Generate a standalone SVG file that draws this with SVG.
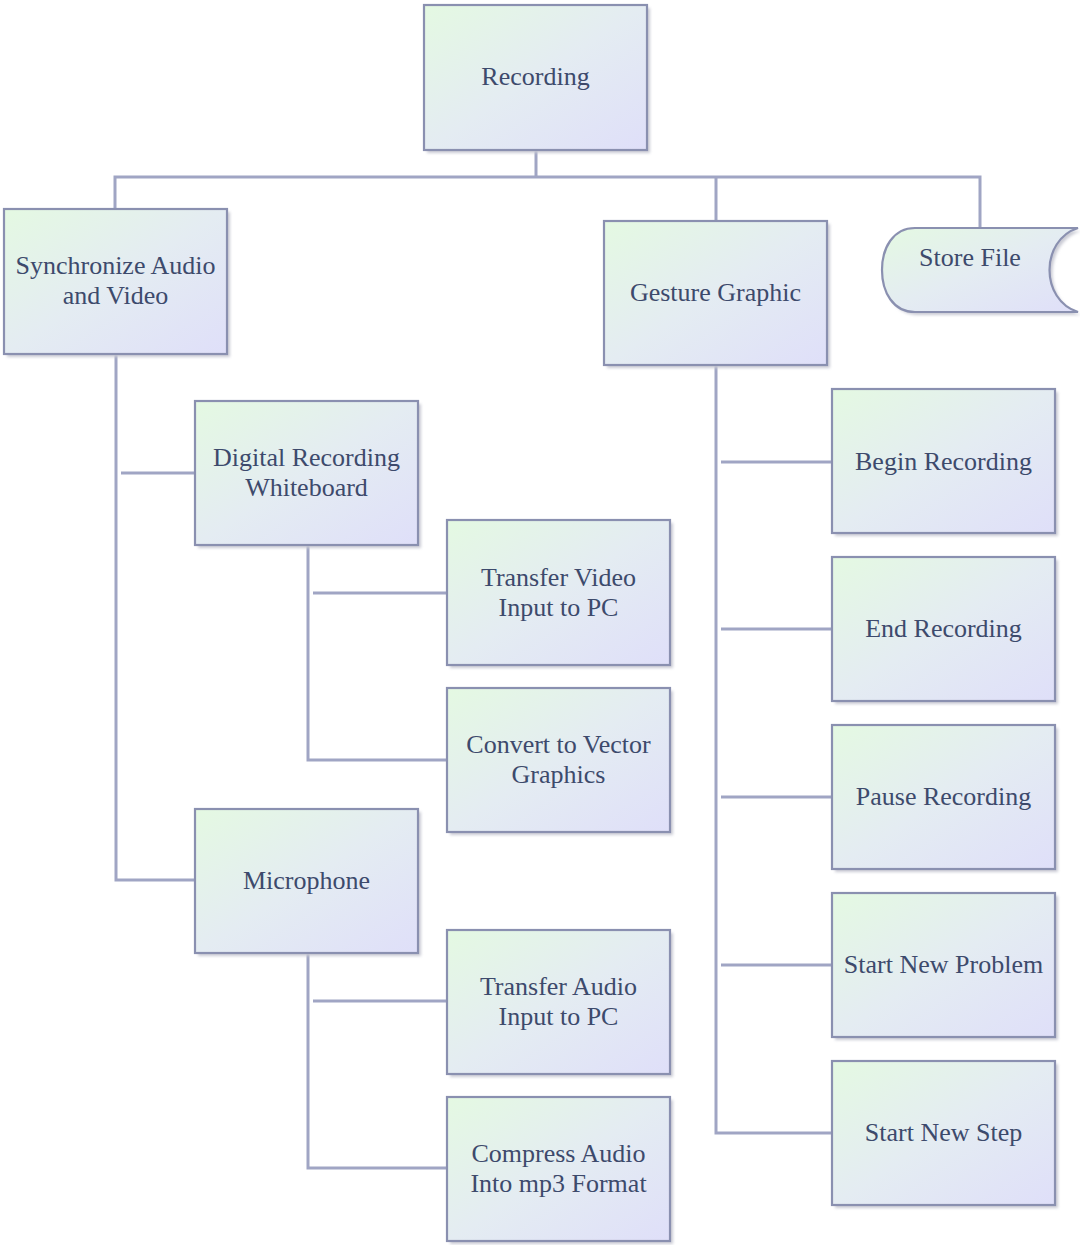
<svg xmlns="http://www.w3.org/2000/svg" width="1080" height="1245" viewBox="0 0 1080 1245">
  <defs>
    <linearGradient id="boxFill" x1="0" y1="0" x2="1" y2="1">
      <stop offset="0" stop-color="#e4f9e2"/>
      <stop offset="0.5" stop-color="#e4ecf2"/>
      <stop offset="1" stop-color="#dfdff9"/>
    </linearGradient>
    <filter id="soft" x="-10%" y="-10%" width="130%" height="130%">
      <feGaussianBlur stdDeviation="1.5"/>
    </filter>
  </defs>
  <style>
    .shadow { fill: #c9cad4; filter: url(#soft); }
    .box { fill: url(#boxFill); stroke: #8a90b0; stroke-width: 2.2; }
    .lbl { font-family: "Liberation Serif", "Times New Roman", serif; font-size: 26px; fill: #3d4a6c; text-anchor: middle; }
    .wire { fill: none; stroke: #a0a5c4; stroke-width: 3; }
  </style>
  <rect width="1080" height="1245" fill="#ffffff"/>

  <!-- connectors -->
  <g id="connectors">
    <path class="wire" d="M536 150 V177 M115 209 V177 H980 V228 M716 177 V221"/>
    <!-- Synchronize Audio and Video branches -->
    <path class="wire" d="M116 354 V880 H195 M121 473 H195"/>
    <!-- Digital Recording Whiteboard branches -->
    <path class="wire" d="M308 545 V760 H447 M313 593 H447"/>
    <!-- Microphone branches -->
    <path class="wire" d="M308 953 V1168 H447 M313 1001 H447"/>
    <!-- Gesture Graphic branches -->
    <path class="wire" d="M716 365 V1133 H832 M721 462 H832 M721 629 H832 M721 797 H832 M721 965 H832"/>
  </g>

  <g id="recording">
    <rect class="shadow" x="427" y="8" width="223" height="145"/>
    <rect class="box" x="424" y="5" width="223" height="145"/>
    <text class="lbl" x="535.5" y="85">Recording</text>
  </g>

  <g id="sync-av">
    <rect class="shadow" x="7" y="212" width="223" height="145"/>
    <rect class="box" x="4" y="209" width="223" height="145"/>
    <text class="lbl" x="115.5" y="274">Synchronize Audio</text>
    <text class="lbl" x="115.5" y="304">and Video</text>
  </g>

  <g id="gesture-graphic">
    <rect class="shadow" x="607" y="224" width="223" height="144"/>
    <rect class="box" x="604" y="221" width="223" height="144"/>
    <text class="lbl" x="715.5" y="301">Gesture Graphic</text>
  </g>

  <g id="store-file">
    <path class="shadow" d="M918 231 H1081 C1043 243 1043 303 1081 315 H918 C896 315 885 295 885 273 C885 251 896 231 918 231 Z"/>
    <path class="box" d="M915 228 H1078 C1040 240 1040 300 1078 312 H915 C893 312 882 292 882 270 C882 248 893 228 915 228 Z"/>
    <text class="lbl" x="970" y="266">Store File</text>
  </g>

  <g id="digital-whiteboard">
    <rect class="shadow" x="198" y="404" width="223" height="144"/>
    <rect class="box" x="195" y="401" width="223" height="144"/>
    <text class="lbl" x="306.5" y="466">Digital Recording</text>
    <text class="lbl" x="306.5" y="496">Whiteboard</text>
  </g>

  <g id="transfer-video">
    <rect class="shadow" x="450" y="523" width="223" height="145"/>
    <rect class="box" x="447" y="520" width="223" height="145"/>
    <text class="lbl" x="558.5" y="586">Transfer Video</text>
    <text class="lbl" x="558.5" y="616">Input to PC</text>
  </g>

  <g id="convert-vector">
    <rect class="shadow" x="450" y="691" width="223" height="144"/>
    <rect class="box" x="447" y="688" width="223" height="144"/>
    <text class="lbl" x="558.5" y="753">Convert to Vector</text>
    <text class="lbl" x="558.5" y="783">Graphics</text>
  </g>

  <g id="microphone">
    <rect class="shadow" x="198" y="812" width="223" height="144"/>
    <rect class="box" x="195" y="809" width="223" height="144"/>
    <text class="lbl" x="306.5" y="889">Microphone</text>
  </g>

  <g id="transfer-audio">
    <rect class="shadow" x="450" y="933" width="223" height="144"/>
    <rect class="box" x="447" y="930" width="223" height="144"/>
    <text class="lbl" x="558.5" y="995">Transfer Audio</text>
    <text class="lbl" x="558.5" y="1025">Input to PC</text>
  </g>

  <g id="compress-audio">
    <rect class="shadow" x="450" y="1100" width="223" height="144"/>
    <rect class="box" x="447" y="1097" width="223" height="144"/>
    <text class="lbl" x="558.5" y="1162">Compress Audio</text>
    <text class="lbl" x="558.5" y="1192">Into mp3 Format</text>
  </g>

  <g id="begin-recording">
    <rect class="shadow" x="835" y="392" width="223" height="144"/>
    <rect class="box" x="832" y="389" width="223" height="144"/>
    <text class="lbl" x="943.5" y="470">Begin Recording</text>
  </g>

  <g id="end-recording">
    <rect class="shadow" x="835" y="560" width="223" height="144"/>
    <rect class="box" x="832" y="557" width="223" height="144"/>
    <text class="lbl" x="943.5" y="637">End Recording</text>
  </g>

  <g id="pause-recording">
    <rect class="shadow" x="835" y="728" width="223" height="144"/>
    <rect class="box" x="832" y="725" width="223" height="144"/>
    <text class="lbl" x="943.5" y="805">Pause Recording</text>
  </g>

  <g id="start-new-problem">
    <rect class="shadow" x="835" y="896" width="223" height="144"/>
    <rect class="box" x="832" y="893" width="223" height="144"/>
    <text class="lbl" x="943.5" y="973">Start New Problem</text>
  </g>

  <g id="start-new-step">
    <rect class="shadow" x="835" y="1064" width="223" height="144"/>
    <rect class="box" x="832" y="1061" width="223" height="144"/>
    <text class="lbl" x="943.5" y="1141">Start New Step</text>
  </g>
</svg>
